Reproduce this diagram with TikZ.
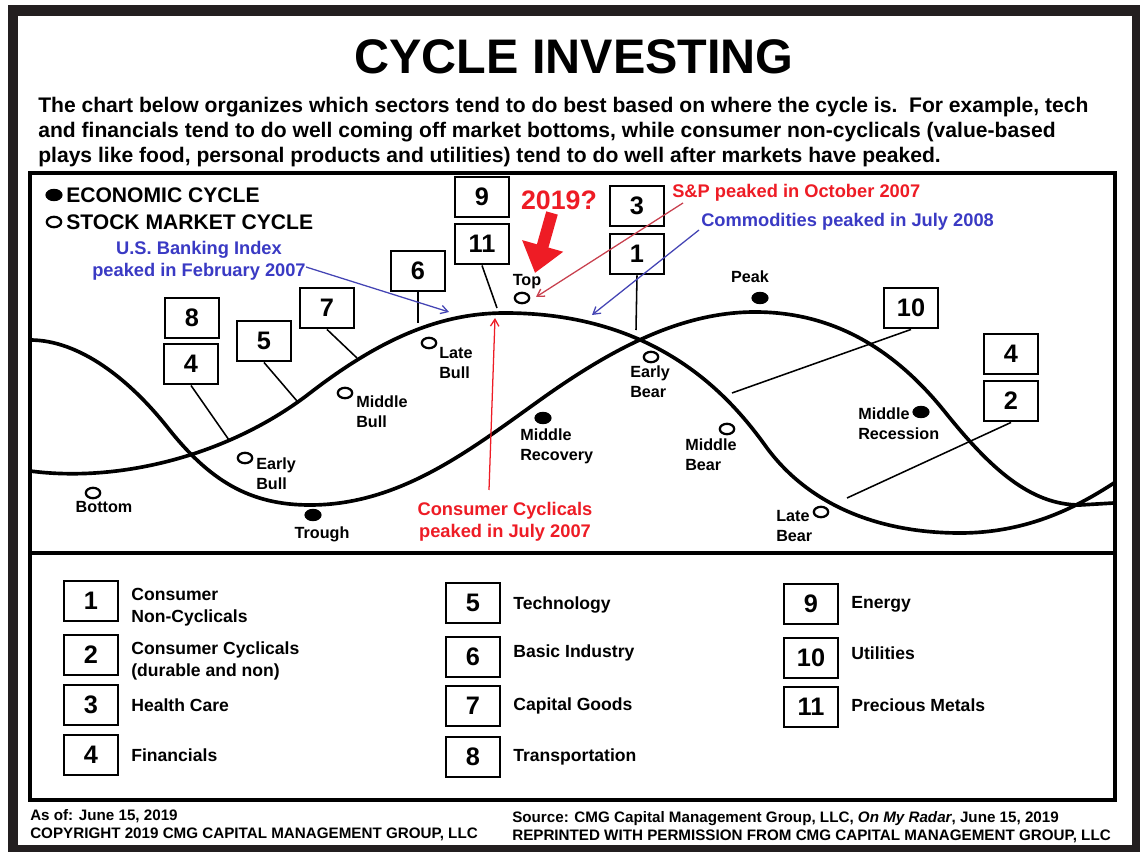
\documentclass[tikz,border=0pt]{standalone}
\usepackage{fontspec}
\setmainfont{Liberation Sans}
\usetikzlibrary{shapes.geometric, arrows.meta, positioning}

\definecolor{framedark}{HTML}{231F20}
\definecolor{notered}{HTML}{EE1C25}
\definecolor{noteblue}{HTML}{3A3AC4}
\definecolor{linered}{HTML}{C8404E}
\definecolor{lineblue}{HTML}{4444B4}

\tikzstyle{numbox} = [draw, line width=1.5pt, minimum width=1.35cm, minimum height=1.02cm, inner sep=0pt, font=\fontsize{18}{20}\selectfont\bfseries]
\tikzstyle{phase} = [align=left, inner sep=0pt, font=\fontsize{11.5}{14}\selectfont\bfseries]
\tikzstyle{econdot} = [ellipse, fill, minimum width=0.43cm, minimum height=0.31cm, inner sep=0pt]
\tikzstyle{stockdot} = [ellipse, draw, line width=1.6pt, minimum width=0.36cm, minimum height=0.26cm, inner sep=0pt]
\tikzstyle{cycleline} = [line width=2.6pt, line cap=round]
\tikzstyle{leadline} = [line width=1.1pt]
\tikzstyle{peaknote} = [inner sep=0pt, align=center, font=\fontsize{13}{15.6}\selectfont\bfseries]
\tikzstyle{peakarrow} = [->, >={Straight Barb[length=5pt, width=6pt]}, line width=0.9pt]
\tikzstyle{sector} = [inner sep=0pt, align=left, font=\fontsize{12.5}{15.6}\selectfont\bfseries]
\tikzstyle{intro} = [inner sep=0pt, anchor=base west, font=\fontsize{15}{18}\selectfont\bfseries]
\tikzstyle{smallprint} = [inner sep=0pt, anchor=base west, font=\fontsize{10.8}{12}\selectfont\bfseries]

\begin{document}
\begin{tikzpicture}[x=0.025cm, y=-0.025cm]
  \useasboundingbox (0,0) rectangle (1140,852);
  % outer frame
  \fill[framedark] (8,5) rectangle (1140,852);
  \fill[white] (18,16) rectangle (1132,845);

  % heading
  \node[font=\fontsize{34.5}{40}\selectfont\bfseries] (title) at (574,57) {CYCLE INVESTING};
  \node[intro] (intro1) at (38,113) {The chart below organizes which sectors tend to do best based on where the cycle is.\ \ For example, tech};
  \node[intro] (intro2) at (38,138) {and financials tend to do well coming off market bottoms, while consumer non-cyclicals (value-based};
  \node[intro] (intro3) at (38,163) {plays like food, personal products and utilities) tend to do well after markets have peaked.};

  % chart frame
  \draw[line width=2.2pt] (30,173) rectangle (1115,800);
  \draw[line width=2.8pt] (30,553) -- (1115,553);

  % key
  \node[econdot] (keyE) at (54,195) {};
  \node[stockdot] (keyS) at (54,222) {};
  \node[anchor=west, inner sep=0pt, font=\fontsize{15}{18}\selectfont\bfseries] (keyEt) at (66,195) {ECONOMIC CYCLE};
  \node[anchor=west, inner sep=0pt, font=\fontsize{15}{18}\selectfont\bfseries] (keySt) at (66,222) {STOCK MARKET CYCLE};

  % the two cycles
  \draw[cycleline] (30,340) .. controls (80,340) and (130,380) .. (168,428)
    .. controls (210,481) and (250,505) .. (310,505)
    .. controls (400,505) and (470,450) .. (540,400)
    .. controls (610,350) and (680,312) .. (755,312)
    .. controls (840,312) and (900,356) .. (945,412)
    .. controls (990,468) and (1030,505) .. (1080,505) -- (1114,503);
  \draw[cycleline] (30,471) .. controls (120,483) and (230,455) .. (310,393)
    .. controls (380,339) and (440,313) .. (505,313)
    .. controls (662,313) and (734,402) .. (767,448)
    .. controls (810,506) and (880,533) .. (960,533)
    .. controls (1030,533) and (1080,505) .. (1114,483);

  % stock market phases
  \node[stockdot] (bottom) at (93,493) {};
  \node[phase] (bottomt) at (104,507) {Bottom};
  \node[stockdot] (earlybull) at (245,458) {};
  \node[phase, anchor=west] (earlybullt) at (256,474) {Early\\Bull};
  \node[stockdot] (midbull) at (345,393) {};
  \node[phase, anchor=west] (midbullt) at (356,412) {Middle\\Bull};
  \node[stockdot] (latebull) at (429,343) {};
  \node[phase, anchor=west] (latebullt) at (439,363) {Late\\Bull};
  \node[stockdot] (top) at (522,298) {};
  \node[phase] (topt) at (527,282) {Top};
  \node[stockdot] (earlybear) at (651,357) {};
  \node[phase, anchor=west] (earlybeart) at (630,382) {Early\\Bear};
  \node[stockdot] (midbear) at (727,429) {};
  \node[phase, anchor=west] (midbeart) at (685,455) {Middle\\Bear};
  \node[stockdot] (latebear) at (821,512) {};
  \node[phase, anchor=west] (latebeart) at (776,526) {Late\\Bear};

  % economic phases
  \node[econdot] (trough) at (313,515) {};
  \node[phase] (trought) at (322,534) {Trough};
  \node[econdot] (midrec) at (543,418) {};
  \node[phase, anchor=west] (midrect) at (520,446) {Middle\\Recovery};
  \node[econdot] (peak) at (760,298) {};
  \node[phase] (peakt) at (750,277) {Peak};
  \node[econdot] (midrecess) at (921,412) {};
  \node[phase, anchor=west] (midrecesst) at (858,424) {Middle\\Recession};

  % sector boxes on the chart
  \node[numbox] (b9) at (482,197) {9};
  \node[numbox] (b11) at (482,244) {11};
  \node[numbox] (b6) at (418,271) {6};
  \node[numbox] (b7) at (327,308) {7};
  \node[numbox] (b8) at (192,318) {8};
  \node[numbox] (b4a) at (191,364) {4};
  \node[numbox] (b5) at (264,341) {5};
  \node[numbox] (b3) at (637,206) {3};
  \node[numbox] (b1) at (637,254) {1};
  \node[numbox] (b10) at (911,308) {10};
  \node[numbox] (b4b) at (1011,354) {4};
  \node[numbox] (b2) at (1011,401) {2};

  \coordinate (l4) at (229,440);
  \coordinate (l5) at (297,401);
  \coordinate (l7) at (357,358);
  \coordinate (l6) at (418,323);
  \coordinate (l11) at (497,308);
  \coordinate (l1) at (636,330);
  \coordinate (l10) at (732,393);
  \coordinate (l2) at (847,498);
  \draw[leadline] (b4a.south) -- (l4);
  \draw[leadline] (b5.south) -- (l5);
  \draw[leadline] (b7.south) -- (l7);
  \draw[leadline] (b6.south) -- (l6);
  \draw[leadline] (b11.south) -- (l11);
  \draw[leadline] (b1.south) -- (l1);
  \draw[leadline] (b10.south) -- (l10);
  \draw[leadline] (b2.south) -- (l2);

  % peaks of past cycles
  \node[peaknote, noteblue] (bank) at (199,261) {U.S. Banking Index\\peaked in February 2007};
  \node[peaknote, notered, anchor=west] (sp) at (672,193) {S\&P peaked in October 2007};
  \node[peaknote, noteblue, anchor=west] (comm) at (701,222) {Commodities peaked in July 2008};
  \node[peaknote, notered] (cons) at (505,522) {Consumer Cyclicals\\peaked in July 2007};
  \coordinate (bankfrom) at (306,267);
  \coordinate (bankto) at (449,312);
  \coordinate (spfrom) at (683,203);
  \coordinate (spto) at (536,297);
  \coordinate (commfrom) at (699,230);
  \coordinate (commto) at (592,315);
  \coordinate (consfrom) at (489,490);
  \coordinate (consto) at (495,318);
  \draw[peakarrow, lineblue] (bankfrom) -- (bankto);
  \draw[peakarrow, linered] (spfrom) -- (spto);
  \draw[peakarrow, lineblue] (commfrom) -- (commto);
  \draw[peakarrow, notered] (consfrom) -- (consto);

  % where we are now
  \node[notered, inner sep=0pt, font=\fontsize{19}{22}\selectfont\bfseries] (now) at (559,200) {2019?};
  \coordinate (nowfrom) at (552,213);
  \coordinate (nowto) at (535,273);
  \draw[notered, line width=8.5pt, -{Triangle[length=20pt, width=29pt]}] (nowfrom) -- (nowto);

  % sector key
  \node[numbox] (s1) at (91,601) {1};
  \node[numbox] (s2) at (91,655) {2};
  \node[numbox] (s3) at (91,705) {3};
  \node[numbox] (s4) at (91,755) {4};
  \node[numbox] (s5) at (473,603) {5};
  \node[numbox] (s6) at (473,657) {6};
  \node[numbox] (s7) at (473,706) {7};
  \node[numbox] (s8) at (473,757) {8};
  \node[numbox] (s9) at (811,604) {9};
  \node[numbox] (s10) at (811,658) {10};
  \node[numbox] (s11) at (811,707) {11};
  \node[sector, right=0.3cm of s1, yshift=-0.15cm] (s1t) {Consumer\\Non-Cyclicals};
  \node[sector, right=0.3cm of s2, yshift=-0.15cm] (s2t) {Consumer Cyclicals\\(durable and non)};
  \node[sector, right=0.3cm of s3] (s3t) {Health Care};
  \node[sector, right=0.3cm of s4] (s4t) {Financials};
  \node[sector, right=0.3cm of s5, yshift=-0.05cm] (s5t) {Technology};
  \node[sector, right=0.3cm of s6, yshift=0.1cm] (s6t) {Basic Industry};
  \node[sector, right=0.3cm of s7] (s7t) {Capital Goods};
  \node[sector, right=0.3cm of s8] (s8t) {Transportation};
  \node[sector, right=0.3cm of s9] (s9t) {Energy};
  \node[sector, right=0.3cm of s10, yshift=0.12cm] (s10t) {Utilities};
  \node[sector, right=0.3cm of s11, yshift=0.05cm] (s11t) {Precious Metals};

  % footer
  \node[smallprint] (asof) at (30,820) {As of: June 15, 2019};
  \node[smallprint] (copy) at (30,838) {COPYRIGHT 2019 CMG CAPITAL MANAGEMENT GROUP, LLC};
  \node[smallprint] (source) at (512,822) {Source: CMG Capital Management Group, LLC, \textit{On My Radar}, June 15, 2019};
  \node[smallprint] (reprint) at (512,840) {REPRINTED WITH PERMISSION FROM CMG CAPITAL MANAGEMENT GROUP, LLC};
\end{tikzpicture}
\end{document}
